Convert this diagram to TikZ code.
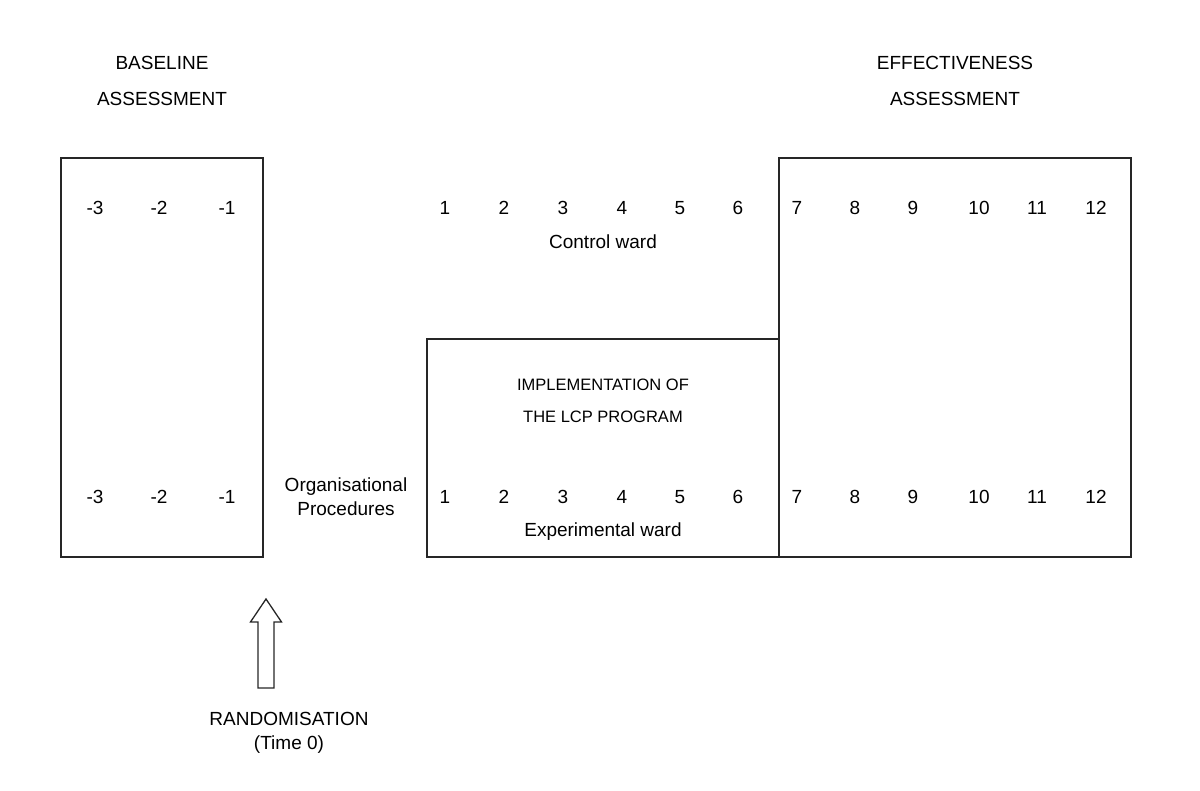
\documentclass[tikz,border=0pt]{standalone}
\usepackage{fontspec}
\setmainfont{Liberation Sans}
\begin{document}
\begin{tikzpicture}[x=1pt,y=-1pt,
  box/.style={draw=black!85,line width=1.3pt,rectangle,inner sep=0pt},
  num/.style={font=\fontsize{19}{22}\selectfont,inner sep=0pt,anchor=center},
  lab/.style={font=\fontsize{19}{24}\selectfont,inner sep=0pt,align=center},
  small/.style={font=\fontsize{16.5}{32}\selectfont,inner sep=0pt,align=center}]
\useasboundingbox (0,0) rectangle (1200,791);
% boxes
\node[box,minimum width=202pt,minimum height=399pt] (base) at (162,357.5) {};
\node[box,minimum width=352pt,minimum height=218pt] (exp) at (603,448) {};
\node[box,minimum width=352pt,minimum height=399pt] (eff) at (955,357.5) {};
% headings
\node[lab] (bh1) at (162,63) {BASELINE};
\node[lab] (bh2) at (162,99) {ASSESSMENT};
\node[lab] (eh1) at (955,63) {EFFECTIVENESS};
\node[lab] (eh2) at (955,99) {ASSESSMENT};
% number rows
\foreach \t/\x [count=\i] in {-3/95,-2/159,-1/227,1/445,2/504,3/563,4/622,5/680,6/738,7/797,8/855,9/913,10/979,11/1037,12/1096}{
  \node[num] (top\i) at (\x,208) {\t};
  \node[num] (bot\i) at (\x,497) {\t};
}
\node[lab] (ctrl) at (603,242) {Control ward};
\node[lab] (expw) at (603,532) {Experimental ward};
\node[small] (impl) at (603,401) {IMPLEMENTATION OF\\THE LCP PROGRAM};
\node[lab] (org) at (346,497) {Organisational\\Procedures};
\node[lab] (rand) at (289,733) {RANDOMISATION\\(Time 0)};
% hollow arrow
\draw[draw=black!85,line width=1.3pt,line join=miter]
  (258,688) -- (258,622) -- (250.5,622) -- (266,599) -- (281.5,622) -- (274,622) -- (274,688) -- cycle;
\end{tikzpicture}
\end{document}
